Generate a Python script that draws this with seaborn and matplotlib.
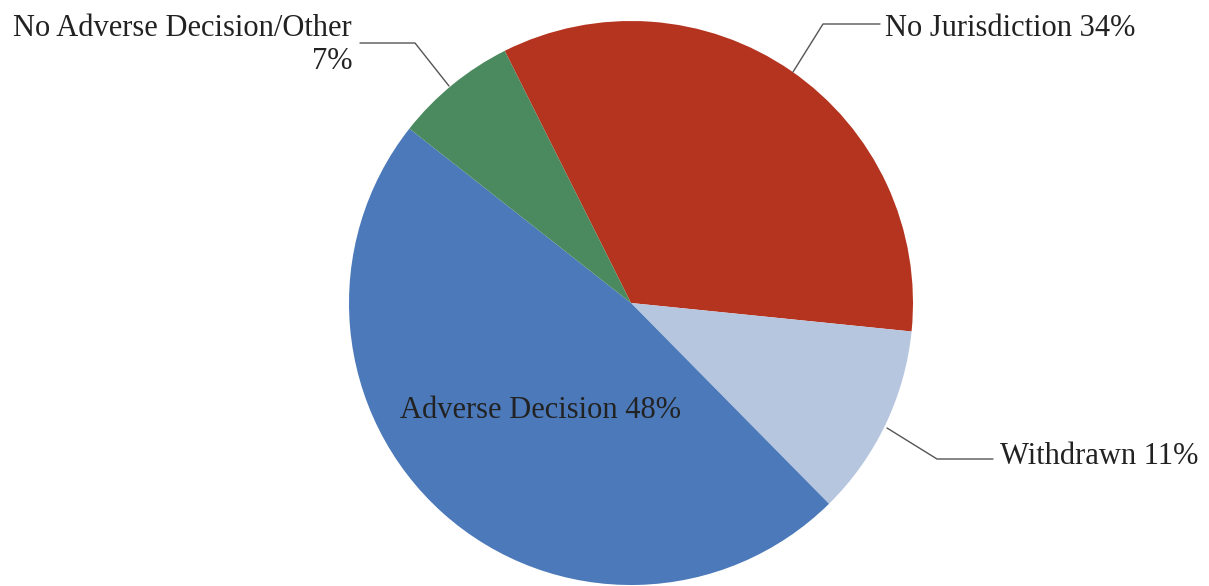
import matplotlib
matplotlib.use("Agg")
import matplotlib.pyplot as plt
import seaborn as sns

categories = ["No Jurisdiction", "Withdrawn", "Adverse Decision", "No Adverse Decision/Other"]
values = [34, 11, 48, 7]
colors = ["#B5341F", "#B6C6DF", "#4B79B9", "#4B8A5E"]

sns.set_theme(style="white")
plt.rcParams['font.family'] = ['Liberation Serif', 'DejaVu Serif']

W, H = 1209, 586
fig = plt.figure(figsize=(W / 100, H / 100), dpi=100)
ax = fig.add_axes([0, 0, 1, 1])


def Y(py):
    return H - py


cx, cy, r = 631, 303, 282
ax.pie(values, colors=colors, startangle=116.6, counterclock=False,
       radius=r, center=(cx, Y(cy)), frame=True,
       wedgeprops=dict(linewidth=0))
ax.set_xlim(0, W)
ax.set_ylim(0, H)
ax.set_aspect('equal')
ax.axis('off')

fs = 22
tc = "#222222"
lc = "#555555"
ax.text(885, Y(29), f"{categories[0]} {values[0]}%", fontsize=fs, color=tc, ha='left', va='center')
ax.plot([793, 823, 880], [Y(72), Y(24), Y(24)], color=lc, lw=1)

ax.text(1000, Y(457), f"{categories[1]} {values[1]}%", fontsize=fs, color=tc, ha='left', va='center')
ax.plot([887, 937, 993], [Y(428), Y(459), Y(459)], color=lc, lw=1)

ax.text(540, Y(410), f"{categories[2]} {values[2]}%", fontsize=fs, color=tc, ha='center', va='center')

ax.text(352, Y(45), f"{categories[3]}\n{values[3]}%", fontsize=fs, color=tc, ha='right', va='center',
        multialignment='right', linespacing=1.22)
ax.plot([360, 415, 449], [Y(43), Y(43), Y(86)], color=lc, lw=1)

fig.savefig("out.png", dpi=100)
